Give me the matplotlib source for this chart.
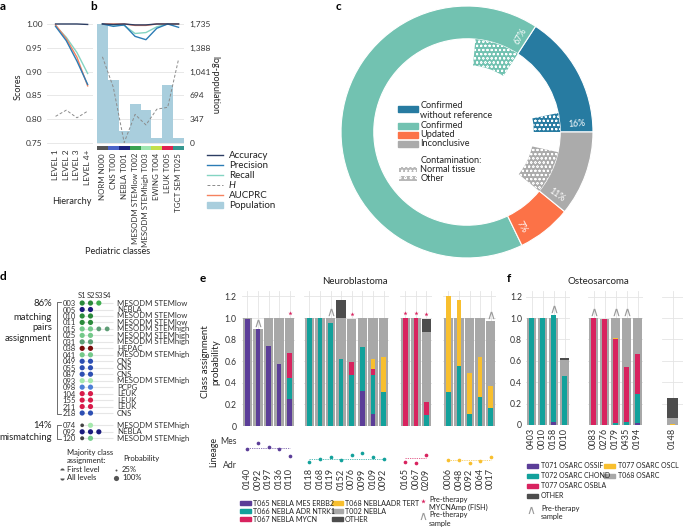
import matplotlib

matplotlib.use("Agg")
import matplotlib.pyplot as plt
import numpy as np
from matplotlib.patches import Rectangle, Wedge

plt.rcParams["font.family"] = ["Lato", "DejaVu Sans"]
plt.rcParams["hatch.linewidth"] = 0.45

# --- panel a: scores per hierarchy level -------------------------------------
a_levels = ["LEVEL 1", "LEVEL 2", "LEVEL 3", "LEVEL 4+"]
a_accuracy = [1.0, 1.0, 1.0, 0.999]
a_precision = [0.995, 0.965, 0.922, 0.873]
a_recall = [0.996, 0.972, 0.940, 0.896]
a_entropy = [0.806, 0.819, 0.803, 0.817]
a_aucprc = [0.998, 0.969, 0.930, 0.870]

# --- panel b: scores per pediatric class --------------------------------------
b_classes = ["NORM N000", "CNS T000", "NEBLA T001", "MESODM STEMlow T002",
             "MESODM STEMhigh T003", "EWING T004", "LEUK T005", "TGCT SEM T025"]
b_accuracy = [1.0, 0.999, 1.0, 0.998, 0.998, 1.0, 1.0, 1.0]
b_precision = [1.0, 0.995, 0.998, 0.974, 0.967, 0.991, 1.0, 0.993]
b_recall = [1.0, 0.998, 0.997, 0.980, 0.982, 0.994, 1.0, 1.0]
b_entropy = [0.931, 0.867, 0.751, 0.810, 0.788, 0.821, 0.825, 0.926]
b_aucprc = [1.0, 1.0, 1.0, 0.997, 0.997, 1.0, 1.0, 1.0]
b_population = [1735, 919, 175, 569, 481, 73, 846, 73]
b_pop_ticks = [0, 347, 694, 1041, 1388, 1735]

# --- panel c: outcome shares --------------------------------------------------
c_labels = ["Confirmed\nwithout reference", "Confirmed", "Updated", "Inconclusive"]
c_share = [16, 67, 7, 11]
c_contamination = [3.3, 7.8, 0.0, 7.5]

# --- panel d: paired samples --------------------------------------------------
d_ids = ["003", "005", "010", "011", "015", "025", "031", "038", "041", "049",
         "055", "087", "093", "098", "104", "155", "211", "218",
         "074", "092", "120"]
d_names = ["MESODM STEMlow", "NEBLA", "MESODM STEMlow", "MESODM STEMlow",
           "MESODM STEMhigh", "MESODM STEMhigh", "MESODM STEMhigh", "HEPAC",
           "MESODM STEMhigh", "CNS", "CNS", "CNS", "MESODM STEMhigh", "PCPG",
           "LEUK", "LEUK", "LEUK", "CNS",
           "MESODM STEMhigh", "NEBLA", "MESODM STEMhigh"]
d_calls = [["low", "low", "low2"], ["nebla", "nebla"], ["low", "low"], ["low", "low"],
           ["high", "high", "high2", "high2"], ["high", "high"], ["high2", "high2"],
           ["hepac", "hepac"], ["high", "high"], ["cns", "cns"], ["cns", "cns"],
           ["cns", "cns"], ["high3", "high3"], ["pcpg", "pcpg"], ["leuk", "leuk"],
           ["leuk", "leuk"], ["leuk", "leuk"], ["cns", "cns"],
           ["norm", "high3"], ["nebla", "nebla", "nebla"], ["norm", "high"]]
d_probs = [[1, 1, 1], [1, 1], [1, 1], [1, 1], [1, 1, 0.85, 0.85], [1, 1], [1, 1],
           [1, 1], [1, 1], [1, 1], [1, 1], [1, 1], [1, 1], [1, 1], [1, 1], [1, 1],
           [1, 1], [1, 1], [0.5, 1], [1, 1, 1], [0.6, 1]]
d_n_matching = 18

# --- panel e: neuroblastoma ---------------------------------------------------
e_samples = ["0140", "0092", "0197", "0136", "0110",
             "0118", "0168", "0119", "0152", "0076", "0099", "0109", "0092",
             "0165", "0067", "0209",
             "0006", "0048", "0092", "0064", "0017"]
e_group_sizes = [5, 8, 3, 5]
e_group_type = ["T065", "T066", "T067", "T068"]
e_t002 = [1.0, 0.90, 1.0, 1.0, 1.0,
          1.0, 1.0, 1.0, 1.0, 0.99, 1.0, 1.0, 1.0,
          1.0, 1.0, 0.87,
          1.0, 1.0, 1.0, 1.0, 0.97]
e_other = [0, 0, 0, 0, 0,
           0, 0, 0, 0.17, 0, 0, 0, 0,
           0, 0, 0.12,
           0, 0, 0, 0, 0]
e_t065 = [0.99, 0.90, 0.74, 0.57, 0.25,
          0, 0, 0, 0, 0, 0.32, 0.11, 0,
          0, 0, 0,
          0, 0, 0, 0, 0]
e_t066 = [0, 0, 0, 0, 0.19,
          1.0, 1.0, 0.955, 0.62, 0.47, 0.41, 0.36, 0.315,
          0, 0, 0.10,
          0.315, 0.56, 0.115, 0.27, 0.17]
e_t067 = [0, 0, 0, 0, 0.24,
          0, 0, 0, 0, 0.12, 0, 0.06, 0,
          1.0, 1.0, 0.125,
          0, 0, 0, 0, 0]
e_t068 = [0, 0, 0, 0, 0,
          0, 0, 0, 0, 0, 0, 0.09, 0.325,
          0, 0, 0,
          0.89, 0.61, 0.375, 0.37, 0.20]
e_lineage = [0.64, 0.87, 0.73, 0.63, 0.36,
             0.13, 0.23, 0.33, 0.20, 0.40, 0.47, 0.33, 0.24,
             0.11, 0.09, 0.40,
             0.20, 0.20, 0.07, 0.17, 0.33]
e_lineage_ref = [0.67, 0.23, 0.27, 0.20]
e_mycn_amp = [0, 0, 0, 0, 1,
              0, 0, 0, 0, 1, 0, 0, 0,
              1, 1, 1,
              0, 0, 0, 0, 0]
e_pretherapy = [0, 1, 0, 0, 0,
                0, 0, 1, 0, 0, 0, 0, 0,
                0, 0, 0,
                0, 0, 0, 0, 1]

# --- panel f: osteosarcoma ----------------------------------------------------
f_samples = ["0403", "0010", "0158", "0010",
             "0083", "0276", "0179", "0435", "0194",
             "0148"]
f_group_sizes = [4, 5, 1]
f_t068 = [1.0, 1.0, 1.0, 0.61, 1.0, 0.99, 1.0, 1.0, 1.0, 0.07]
f_other = [0, 0, 0, 0.012, 0, 0, 0, 0, 0, 0.18]
f_t071 = [0, 0, 0.025, 0, 0, 0, 0, 0, 0.015, 0]
f_t072 = [1.0, 1.0, 1.0, 0.46, 0, 0, 0.015, 0.03, 0.275, 0]
f_t077_osbla = [0, 0, 0, 0, 1.0, 0.99, 0.785, 0.51, 0.37, 0]
f_t077_oscl = [0, 0, 0, 0, 0, 0, 0.012, 0.006, 0, 0.012]
f_pretherapy = [0, 0, 1, 0, 1, 0, 1, 1, 0, 0]

# --- styles -------------------------------------------------------------------
C_ACC, C_PREC, C_REC, C_H, C_AUC = "#2c3d62", "#2b7cb5", "#84d4c2", "#8c8c8c", "#f5825f"
C_POP = "#a9cedd"
STRIP = ["#555555", "#4a63c8", "#1b237e", "#3aa150", "#9ee6b0", "#c4e04a", "#e0224e", "#35978f"]
DONUT = ["#277ba1", "#72c2b1", "#fc7247", "#ababab"]
DOT = {"low": "#2b8a3b", "low2": "#3fae4f", "high": "#74c98a", "high2": "#5e9e76",
       "high3": "#a5e8ad", "nebla": "#1b1b7e", "hepac": "#7a0c0c", "cns": "#2d4fb3",
       "pcpg": "#4d7fd6", "leuk": "#d81b4a", "norm": "#444444"}
C_T065, C_T066, C_T067, C_T068 = "#5b3d98", "#12a19b", "#d8235f", "#f8bf2e"
C_BASE, C_OTHER = "#a8a8a8", "#4d4d4d"
TYPE_COL = {"T065": C_T065, "T066": C_T066, "T067": C_T067, "T068": C_T068}
GRID = "#e4e4e4"
TXT = "#222222"
FS = 5.8

W, H = 685, 527
fig = plt.figure(figsize=(W / 100, H / 100), dpi=100)


def add_ax(x0, y0, x1, y1):
    return fig.add_axes([x0 / W, 1 - y1 / H, (x1 - x0) / W, (y1 - y0) / H])


def clean(ax, pad=2, size=FS):
    for s in ax.spines.values():
        s.set_visible(False)
    ax.tick_params(length=0, labelsize=size, labelcolor="#333333", pad=pad)


# ---------------- a ----------------
SCORE_LIM = (0.745, 1.005)
score_ticks = [0.75, 0.80, 0.85, 0.90, 0.95, 1.00]
ax_a = add_ax(47, 21.6, 93, 145.4)
xa = np.arange(len(a_levels))
ax_a.plot(xa, a_entropy, color=C_H, lw=0.7, ls=(0, (3, 2)))
ax_a.plot(xa, a_recall, color=C_REC, lw=1)
ax_a.plot(xa, a_aucprc, color=C_AUC, lw=1)
ax_a.plot(xa, a_precision, color=C_PREC, lw=1)
ax_a.plot(xa, a_accuracy, color=C_ACC, lw=1)
ax_a.set_xlim(-0.8, 3.5)
ax_a.set_ylim(*SCORE_LIM)
ax_a.set_yticks(score_ticks, [f"{t:.2f}" for t in score_ticks])
ax_a.set_xticks(xa, a_levels, rotation=90)
ax_a.grid(axis="y", color=GRID, lw=0.6)
ax_a.set_axisbelow(True)
clean(ax_a, pad=3, size=6.0)

# ---------------- b ----------------
ax_b = add_ax(97, 21.6, 184, 145.4)
ax_b2 = ax_b.twinx()
xb = np.arange(len(b_classes))
ax_b2.bar(xb, b_population, width=1.0, color=C_POP)
span = b_pop_ticks[-1] / 0.25
ax_b2.set_ylim((SCORE_LIM[0] - 0.75) * span, (SCORE_LIM[1] - 0.75) * span)
ax_b2.set_yticks(b_pop_ticks, [f"{t:,}" for t in b_pop_ticks])
ax_b2.grid(axis="y", color=GRID, lw=0.6)
ax_b2.set_axisbelow(True)
clean(ax_b2, pad=4, size=6.0)
ax_b.set_zorder(ax_b2.get_zorder() + 1)
ax_b.patch.set_visible(False)
ax_b.plot(xb, b_entropy, color=C_H, lw=0.7, ls=(0, (3, 2)))
ax_b.plot(xb, b_recall, color=C_REC, lw=1)
ax_b.plot(xb, b_aucprc, color=C_AUC, lw=1)
ax_b.plot(xb, b_precision, color=C_PREC, lw=1)
ax_b.plot(xb, b_accuracy, color=C_ACC, lw=1)
ax_b.set_xlim(-0.5, len(b_classes) - 0.5)
ax_b.set_ylim(*SCORE_LIM)
ax_b.set_xticks([])
ax_b.set_yticks([])
clean(ax_b)

ax_s = add_ax(97, 146, 184, 149.5)
ax_s.bar(xb, np.ones(len(xb)), width=1.0, color=STRIP)
ax_s.set_xlim(-0.5, len(b_classes) - 0.5)
ax_s.set_ylim(0, 1)
ax_s.set_yticks([])
ax_s.set_xticks(xb, b_classes, rotation=90)
clean(ax_s, pad=2.5, size=5.7)

# ---------------- c ----------------
ax_c = add_ax(337, 2, 597, 262)
ax_c.pie(c_share, colors=DONUT, startangle=0, counterclock=True, radius=1.0,
         wedgeprops=dict(width=0.26, edgecolor="white", linewidth=0.8))
total = float(sum(c_share))
starts = np.concatenate([[0], np.cumsum(c_share)[:-1]]) / total * 360
for st, share, cont, col in zip(starts, c_share, c_contamination, DONUT):
    if cont > 0:
        ax_c.add_patch(Wedge((0, 0), 0.74, st, st + cont / total * 360, width=0.21,
                             facecolor=col, edgecolor="white", linewidth=0,
                             hatch="oooo"))
    ang = st + 4
    rot = ang if ang <= 90 else ang - 360
    ax_c.text(0.87 * np.cos(np.radians(ang)), 0.87 * np.sin(np.radians(ang)),
              f"{share}%", color="white", fontsize=6.3, ha="center", va="center",
              rotation=rot, rotation_mode="anchor")
ax_c.set_xlim(-1.032, 1.032)
ax_c.set_ylim(-1.032, 1.032)
ax_c.set_aspect("equal")
ax_c.axis("off")

# ---------------- d ----------------
d_rows = np.array([i + (0.9 if i >= d_n_matching else 0) for i in range(len(d_ids))])
ax_d = add_ax(78, 299.8, 114, 441.5)
ax_d.hlines(d_rows, 0, 3.7, color="#e6e6e6", lw=0.8, zorder=1)
for yy, calls, probs in zip(d_rows, d_calls, d_probs):
    ax_d.scatter(np.arange(len(calls)), [yy] * len(calls), s=[14 * p for p in probs],
                 c=[DOT[k] for k in calls], linewidths=0, zorder=3)
ax_d.set_xlim(-0.5, 3.82)
ax_d.set_ylim(21.4, -0.5)
ax_d.xaxis.tick_top()
ax_d.set_xticks(range(4), ["S1", "S2", "S3", "S4"])
ax_d.set_yticks(d_rows, d_ids)
clean(ax_d, pad=1.5, size=5.5)
ax_d.tick_params(axis="x", pad=0.5)
for yy, nm in zip(d_rows, d_names):
    ax_d.text(1.08, yy, nm, transform=ax_d.get_yaxis_transform(), fontsize=5.6,
              va="center", ha="left", color="#333333")


# ---------------- e / f stacked bars ----------------
def draw_stack(ax, base, other, layers, colors, star, caret):
    x = np.arange(len(base))
    base = np.asarray(base, float)
    other = np.asarray(other, float)
    ax.bar(x, base, width=0.9, color=C_BASE, zorder=2)
    ax.bar(x, other, bottom=base, width=0.9, color=C_OTHER, zorder=2)
    bottom = np.zeros(len(base))
    for vals, col in zip(layers, colors):
        vals = np.asarray(vals, float)
        ax.bar(x, vals, bottom=bottom, width=0.42, color=col, zorder=3)
        bottom += vals
    top = np.maximum(base + other, bottom)
    for xi, t, s, c in zip(x, top, star, caret):
        if s:
            ax.scatter(xi, t + 0.05, marker="*", s=10, color=C_T067, linewidths=0, zorder=4)
        if c:
            ax.scatter(xi, t + 0.055, marker=r"$\wedge$", s=28, color="#9a9a9a",
                       linewidths=0, zorder=4)
    ax.set_xticks(x)
    ax.set_xlim(-0.5, len(base) - 0.5)
    ax.set_ylim(0, 1.25)
    ax.set_yticks(np.arange(0, 1.21, 0.2))
    ax.grid(True, color=GRID, lw=0.6)
    ax.set_axisbelow(True)


prob_labels = ["0", "0.2", "0.4", "0.6", "0.8", "1.0", "1.2"]
e_starts = [242, 304, 400, 443]
pitch = 10.6
k = 0
for g, n in enumerate(e_group_sizes):
    sl = slice(k, k + n)
    x0 = e_starts[g]
    x1 = x0 + n * pitch
    ax = add_ax(x0, 291, x1, 426)
    draw_stack(ax, e_t002[sl], e_other[sl],
               [e_t065[sl], e_t066[sl], e_t067[sl], e_t068[sl]],
               [C_T065, C_T066, C_T067, C_T068], e_mycn_amp[sl], e_pretherapy[sl])
    clean(ax, pad=4, size=6.2)
    ax.tick_params(labelbottom=False)
    if g == 0:
        ax.set_yticklabels(prob_labels)
    else:
        ax.tick_params(labelleft=False)

    col = TYPE_COL[e_group_type[g]]
    axl = add_ax(x0, 438.75, x1, 466.25)
    xl = np.arange(n)
    axl.plot([0, n - 1], [e_lineage_ref[g]] * 2, color=col, lw=0.6, ls=(0, (1.5, 1.2)), alpha=0.8)
    axl.scatter(xl, e_lineage[sl], s=7, color=col, linewidths=0, zorder=3)
    axl.set_xlim(-0.5, n - 0.5)
    axl.set_ylim(-0.05, 1.05)
    axl.set_xticks(xl, e_samples[sl], rotation=90)
    clean(axl, pad=1.5, size=6.6)
    if g == 0:
        axl.set_yticks([0, 1], ["Adr", "Mes"])
        axl.tick_params(axis="y", pad=4, labelsize=6.2)
    else:
        axl.set_yticks([])
    k += n

f_starts = [526, 588, 662]
f_widths = [4 * 11, 5 * 11, 21]
k = 0
for g, n in enumerate(f_group_sizes):
    sl = slice(k, k + n)
    ax = add_ax(f_starts[g], 291.25, f_starts[g] + f_widths[g], 425)
    draw_stack(ax, f_t068[sl], f_other[sl],
               [f_t071[sl], f_t072[sl], f_t077_osbla[sl], f_t077_oscl[sl]],
               [C_T065, C_T066, C_T067, C_T068], [0] * n, f_pretherapy[sl])
    if n == 1:
        ax.set_xlim(-0.8, 0.8)
    ax.set_xticklabels(f_samples[sl], rotation=90)
    clean(ax, pad=3, size=6.2)
    ax.tick_params(axis="x", pad=2, labelsize=6.6)
    if g == 0:
        ax.set_yticklabels(prob_labels)
    else:
        ax.tick_params(labelleft=False)
    k += n

# ---------------- overlay: titles, legends, labels ----------------
ov = fig.add_axes([0, 0, 1, 1])
ov.set_xlim(0, W)
ov.set_ylim(H, 0)
ov.axis("off")
ov.set_zorder(20)


def t(x, y, s, **kw):
    kw.setdefault("fontsize", 6.6)
    kw.setdefault("color", TXT)
    kw.setdefault("va", "center")
    ov.text(x, y, s, **kw)


for x, y, s in [(0, 6, "a"), (90, 6, "b"), (336, 6, "c"), (0, 277, "d"),
                (200, 278, "e"), (507, 278, "f")]:
    t(x, y, s, fontsize=8.5, fontweight="bold", color="black")

t(18, 87, "Scores", rotation=90, ha="center")
t(215, 85, "log-population", rotation=270, ha="center")
t(72, 201, "Hierarchy", ha="center")
t(118, 251, "Pediatric classes", ha="center")

leg_ab = [("Accuracy", C_ACC, "-"), ("Precision", C_PREC, "-"), ("Recall", C_REC, "-"),
          ("H", C_H, "--"), ("AUCPRC", C_AUC, "-")]
for i, (lab, col, ls) in enumerate(leg_ab):
    y = 155 + 10 * i
    ov.plot([207, 223], [y, y], color=col, lw=1 if ls == "-" else 0.7,
            ls=ls if ls == "-" else (0, (3, 2)))
    t(229, y, lab, fontsize=7, style="italic" if lab == "H" else "normal")
ov.add_patch(Rectangle((207, 202), 16, 6, color=C_POP))
t(229, 205, "Population", fontsize=7)

# c legend
c_rows = [108.5, 125.7, 134.7, 143.7]
for (lab, col, y) in zip(c_labels, DONUT, c_rows):
    ov.add_patch(Rectangle((398, y - 3), 20, 6, color=col))
t(420.5, 101, "Confirmed\nwithout reference", va="top", linespacing=1.15)
t(420.5, 125.7, "Confirmed")
t(420.5, 134.7, "Updated")
t(420.5, 143.7, "Inconclusive")
t(420.5, 160.7, "Contamination:")
t(420.5, 169.7, "Normal tissue")
t(420.5, 178.7, "Other")
for y, hatch in [(169.7, "oooo"), (178.7, "ooo")]:
    ov.add_patch(Rectangle((399, y - 2.5), 18, 5, facecolor="#b8b8b8", edgecolor="white",
                           linewidth=0, hatch=hatch))

# d brackets and legend
t(52, 303, "86%", ha="right", fontsize=6.8)
t(52, 328, "matching\npairs\nassignment", ha="right", fontsize=6.8, linespacing=1.2)
t(52, 425.3, "14%", ha="right", fontsize=6.8)
t(52, 437.7, "mismatching", ha="right", fontsize=6.8)
ov.plot([61, 57, 57, 61], [302, 302, 414, 414], color="#555555", lw=0.6)
ov.plot([61, 57, 57, 61], [425, 425, 439, 439], color="#555555", lw=0.6)
t(67, 456.5, "Majority class\nassignment:", fontsize=5.5, linespacing=1.3)
ov.plot([62], [469.5], marker="o", ms=3, fillstyle="top", color="#555555",
        markerfacecoloralt="none", mew=0)
ov.plot([62], [477.5], marker="o", ms=3, fillstyle="bottom", color="#555555",
        markerfacecoloralt="none", mew=0)
t(67, 469, "First level", fontsize=5.5)
t(67, 477.5, "All levels", fontsize=5.5)
t(123, 458, "Probability", fontsize=5.5)
ov.scatter([116], [469.5], s=2, color="#555555", linewidths=0)
ov.scatter([116], [477.5], s=14, color="#555555", linewidths=0)
t(122, 469, "25%", fontsize=5.5)
t(122, 477.5, "100%", fontsize=5.5)

# e labels and legend
t(355, 281, "Neuroblastoma", ha="center", fontsize=7)
t(211, 362, "Class assignment\nprobability", rotation=90, ha="center", fontsize=7,
  multialignment="center")
t(214, 452, "Lineage", rotation=90, ha="center", fontsize=6.4)
e_leg = [(240, 503, C_T065, "T065 NEBLA MES ERBB2"),
         (240, 511, C_T066, "T066 NEBLA ADR NTRK1"),
         (240, 519.3, C_T067, "T067 NEBLA MYCN"),
         (332, 503, C_T068, "T068 NEBLAADR TERT"),
         (332, 511, C_BASE, "T002 NEBLA"),
         (332, 519.3, C_OTHER, "OTHER")]
for x, y, col, lab in e_leg:
    ov.add_patch(Rectangle((x, y - 2.2), 11, 4.4, color=col))
    t(x + 13, y, lab, fontsize=5.1)
ov.scatter([423], [501], marker="*", s=12, color=C_T067, linewidths=0)
t(429, 503.5, "Pre-therapy\nMYCNAmp (FISH)", fontsize=5.3, linespacing=1.2)
ov.scatter([423], [516], marker=r"$\wedge$", s=26, color="#9a9a9a", linewidths=0)
t(429, 519, "Pre-therapy\nsample", fontsize=5.3, linespacing=1.2)

# f labels and legend
t(598, 281, "Osteosarcoma", ha="center", fontsize=7)
f_leg = [(527, 466, C_T065, "T071 OSARC OSSIF"),
         (527, 476, C_T066, "T072 OSARC CHOND"),
         (527, 486, C_T067, "T077 OSARC OSBLA"),
         (527, 496, C_OTHER, "OTHER"),
         (604, 466, C_T068, "T077 OSARC OSCL"),
         (604, 476, C_BASE, "T068 OSARC")]
for x, y, col, lab in f_leg:
    ov.add_patch(Rectangle((x, y - 2.2), 11, 4.4, color=col))
    t(x + 14, y, lab, fontsize=5.0)
ov.scatter([531], [510], marker=r"$\wedge$", s=26, color="#9a9a9a", linewidths=0)
t(541, 512.5, "Pre-therapy\nsample", fontsize=5.3, linespacing=1.2)

fig.savefig("out.png", dpi=100)
